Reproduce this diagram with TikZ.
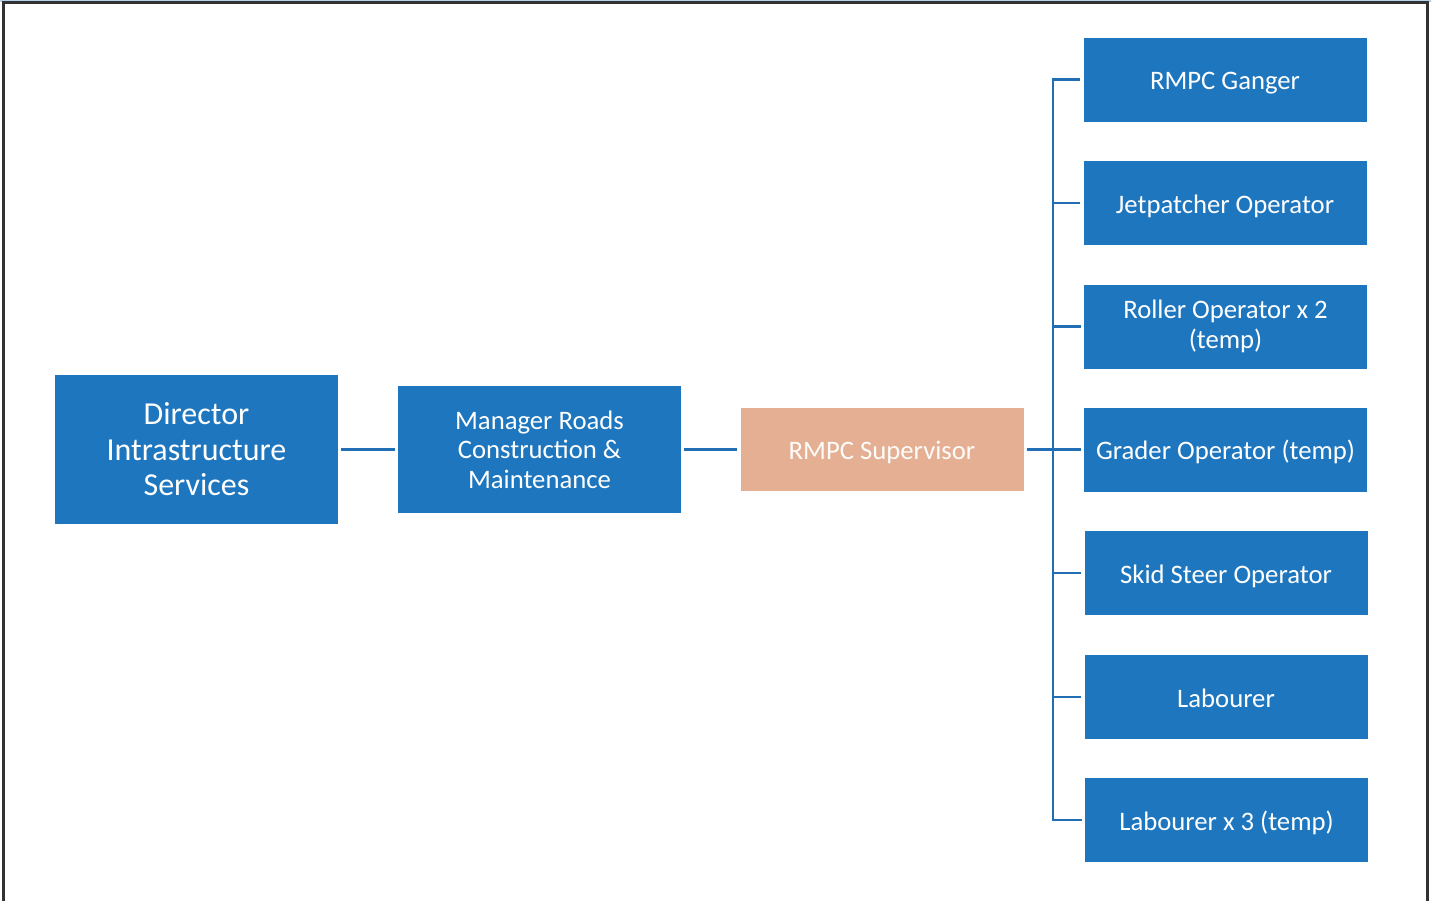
\documentclass[tikz,border=0pt]{standalone}
\usepackage{fontspec}
\setmainfont{Carlito}
\definecolor{boxblue}{RGB}{30,118,190}
\definecolor{lineblue}{RGB}{34,110,180}
\definecolor{salmon}{RGB}{228,175,146}
\definecolor{frame}{RGB}{50,50,50}
\definecolor{topband}{RGB}{180,210,235}
\begin{document}
\begin{tikzpicture}[x=1pt,y=-1pt,
  bluebox/.style={fill=boxblue,draw=none,text=white,align=center,inner sep=0pt,
    minimum width=283pt,minimum height=84pt,font=\fontsize{26.7}{29.5}\selectfont},
  oneline/.style={text height=23pt,text depth=3pt},
  supbox/.style={bluebox,fill=salmon,text=white!96!salmon},
  link/.style={draw=lineblue,line width=2.5pt}]
\useasboundingbox (0,0) rectangle (1431,900);
\fill[topband] (0,0) rectangle (1431,2);
\draw[frame,line width=2.2pt] (3.5,905) -- (3.5,2.5) -- (1427.5,2.5) -- (1427.5,905);
% main chain
\node[bluebox,minimum width=283pt,minimum height=149pt,font=\fontsize{32}{35.5}\selectfont] (dir) at (196.5,449.5) {Director\\Intrastructure\\Services};
\node[bluebox,minimum height=127pt] (mgr) at (539.5,449.5) {Manager Roads\\Construction \&\\Maintenance};
\node[supbox,oneline,minimum height=83pt] (sup) at (882,449.5) {RMPC Supervisor};
% right column
\node[bluebox,oneline] (r1) at (1225,79.5) {RMPC Ganger};
\node[bluebox,oneline] (r2) at (1225,203) {Jetpatcher Operator};
\node[bluebox] (r3) at (1225.5,326.5) {Roller Operator x 2\\(temp)};
\node[bluebox,oneline] (r4) at (1225.5,449.5) {Grader Operator (temp)};
\node[bluebox,oneline] (r5) at (1226,573) {Skid Steer Operator};
\node[bluebox,oneline] (r6) at (1226,697) {Labourer};
\node[bluebox,oneline] (r7) at (1226.5,820) {Labourer x 3 (temp)};
% connectors
\coordinate (bus) at (1053,449.5);
\draw[link] ([xshift=3pt]dir.east) -- ([xshift=-3pt]mgr.west);
\draw[link] ([xshift=3pt]mgr.east) -- ([xshift=-3pt]sup.west);
\draw[link] ([xshift=3pt]sup.east) -- (bus);
\draw[link] ([xshift=-3pt]r1.west) -| (bus);
\draw[link] ([xshift=-3pt]r7.west) -| (bus);
\foreach \n in {r2,r3,r4,r5,r6}{
  \draw[link] ([xshift=-3pt]\n.west) -- (bus |- \n.west);
}
\end{tikzpicture}
\end{document}
